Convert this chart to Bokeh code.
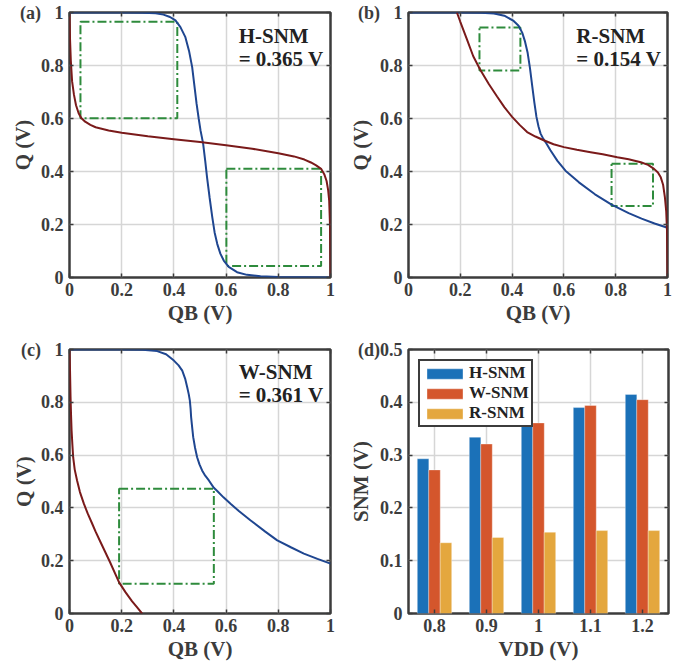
from bokeh.plotting import figure
from bokeh.layouts import row, column
from bokeh.models import (Range1d, FixedTicker, LinearAxis, Label, Legend,
                          LegendItem, ColumnDataSource)
from bokeh.transform import dodge
from bokeh.embed import file_html
from bokeh.resources import INLINE

# ---------------- data ----------------
# (a) hold butterfly
a_blue_qb = [0, 0.1, 0.2, 0.28, 0.33, 0.36, 0.385, 0.406, 0.425, 0.444, 0.458, 0.47, 0.479,
             0.487, 0.495, 0.502, 0.512, 0.52, 0.527, 0.537, 0.547, 0.556, 0.566, 0.578, 0.591,
             0.61, 0.642, 0.68, 0.732, 0.8, 0.9, 1.0]
a_blue_q = [1, 1, 1, 0.999, 0.997, 0.992, 0.983, 0.97, 0.945, 0.907, 0.855, 0.794, 0.72,
            0.655, 0.6, 0.555, 0.505, 0.44, 0.378, 0.3, 0.228, 0.17, 0.127, 0.09, 0.064,
            0.04, 0.02, 0.01, 0.005, 0.002, 0.001, 0.0]
a_red_qb = [0, 0.002, 0.005, 0.01, 0.017, 0.025, 0.035, 0.045, 0.06, 0.08, 0.1, 0.15, 0.2,
            0.3, 0.4, 0.5, 0.6, 0.7, 0.8, 0.86, 0.9, 0.925, 0.945, 0.964, 0.976, 0.985,
            0.991, 0.995, 0.998, 1.0]
a_red_q = [1, 0.9, 0.82, 0.74, 0.69, 0.65, 0.62, 0.602, 0.588, 0.576, 0.567, 0.555, 0.546,
           0.533, 0.522, 0.511, 0.499, 0.486, 0.469, 0.457, 0.445, 0.434, 0.423, 0.41, 0.39,
           0.364, 0.33, 0.289, 0.2, 0.0]
a_box_left = [0.042, 0.601]
a_box_right = [0.413, 0.964]
a_box_bottom = [0.601, 0.043]
a_box_top = [0.965, 0.41]

# (b) read butterfly
b_blue_qb = [0, 0.1, 0.2, 0.28, 0.33, 0.37, 0.406, 0.425, 0.439, 0.45, 0.46, 0.469, 0.478,
             0.486, 0.494, 0.502, 0.51, 0.52, 0.529, 0.548, 0.575, 0.606, 0.658, 0.72, 0.784,
             0.85, 0.9, 0.95, 1.0]
b_blue_q = [1, 1, 1, 0.999, 0.996, 0.988, 0.968, 0.95, 0.924, 0.89, 0.848, 0.79, 0.72,
            0.66, 0.606, 0.57, 0.543, 0.524, 0.511, 0.48, 0.44, 0.403, 0.359, 0.314, 0.275,
            0.243, 0.222, 0.204, 0.188]
b_red_qb = [0.187, 0.2, 0.226, 0.25, 0.277, 0.31, 0.342, 0.37, 0.4, 0.43, 0.458, 0.49, 0.522,
            0.56, 0.6, 0.65, 0.703, 0.75, 0.806, 0.85, 0.897, 0.925, 0.948, 0.963, 0.974,
            0.983, 0.99, 0.995, 0.998, 1.0]
b_red_q = [1.0, 0.965, 0.898, 0.835, 0.784, 0.73, 0.683, 0.643, 0.606, 0.575, 0.549, 0.532,
           0.518, 0.503, 0.492, 0.482, 0.473, 0.465, 0.454, 0.446, 0.435, 0.425, 0.41, 0.396,
           0.378, 0.35, 0.302, 0.25, 0.18, 0.0]
b_box_left = [0.274, 0.784]
b_box_right = [0.432, 0.944]
b_box_bottom = [0.781, 0.27]
b_box_top = [0.943, 0.429]

# (c) write butterfly
c_blue_qb = [0, 0.1, 0.2, 0.28, 0.336, 0.37, 0.4, 0.418, 0.432, 0.443, 0.451, 0.457, 0.461,
             0.464, 0.466, 0.47, 0.474, 0.481, 0.489, 0.498, 0.508, 0.52, 0.534, 0.553, 0.566,
             0.59, 0.617, 0.65, 0.693, 0.75, 0.796, 0.85, 0.898, 0.95, 1.0]
c_blue_q = [1, 1, 1, 0.999, 0.994, 0.982, 0.958, 0.94, 0.92, 0.89, 0.857, 0.83, 0.807,
            0.775, 0.744, 0.705, 0.668, 0.628, 0.592, 0.565, 0.542, 0.522, 0.504, 0.476, 0.464,
            0.44, 0.416, 0.387, 0.353, 0.31, 0.277, 0.25, 0.227, 0.207, 0.189]
c_red_qb = [0, 0.002, 0.004, 0.006, 0.008, 0.011, 0.014, 0.02, 0.029, 0.04, 0.055, 0.07,
            0.087, 0.1, 0.12, 0.155, 0.19, 0.215, 0.24, 0.26, 0.278]
c_red_q = [1, 0.92, 0.82, 0.75, 0.693, 0.64, 0.592, 0.545, 0.504, 0.46, 0.416, 0.378,
           0.34, 0.31, 0.268, 0.195, 0.118, 0.08, 0.046, 0.022, 0.0]
c_box_left = [0.19]
c_box_right = [0.553]
c_box_bottom = [0.113]
c_box_top = [0.473]

# (d) SNM vs VDD
vdd = [0.8, 0.9, 1.0, 1.1, 1.2]
h_snm = [0.293, 0.334, 0.365, 0.39, 0.415]
w_snm = [0.272, 0.321, 0.361, 0.394, 0.405]
r_snm = [0.134, 0.144, 0.154, 0.157, 0.157]
series_names = ["H-SNM", "W-SNM", "R-SNM"]

vtc_ticks = [0, 0.2, 0.4, 0.6, 0.8, 1.0]
vtc_tick_labels = ["0", "0.2", "0.4", "0.6", "0.8", "1"]
snm_ticks = [0, 0.1, 0.2, 0.3, 0.4, 0.5]
snm_tick_labels = ["0", "0.1", "0.2", "0.3", "0.4", "0.5"]
vdd_tick_labels = ["0.8", "0.9", "1", "1.1", "1.2"]
panel_tags = ["(a)", "(b)", "(c)", "(d)"]

# ---------------- style ----------------
FONT = "Liberation Serif"
DARK = "#3c3c3c"
GRID = "#d6d6d6"
BLUE = "#1f4690"
RED = "#7a1a1a"
GREEN = "#2e8b3c"
BAR_COLORS = ["#1b71b8", "#d4562c", "#e4a73e"]
NB = "\u00a0"


def style_axis(ax, size="18px"):
    ax.axis_line_color = None
    ax.major_tick_in = 4
    ax.major_tick_out = 0
    ax.major_tick_line_color = DARK
    ax.major_tick_line_width = 1.5
    ax.minor_tick_line_color = None
    ax.major_label_text_font = FONT
    ax.major_label_text_font_style = "bold"
    ax.major_label_text_font_size = size
    ax.major_label_text_color = DARK
    ax.axis_label_text_font = FONT
    ax.axis_label_text_font_style = "bold"
    ax.axis_label_text_font_size = "21px"
    ax.axis_label_text_color = DARK


def make_fig(W, H, left, right, top, bottom, xr, yr, xticks, xlabels, yticks, ylabels,
             xlabel, ylabel, ylabel_standoff):
    p = figure(width=W, height=H, x_range=Range1d(*xr), y_range=Range1d(*yr),
               output_backend="svg", toolbar_location=None,
               min_border_left=left, min_border_right=right,
               min_border_top=top, min_border_bottom=bottom)
    p.outline_line_color = DARK
    p.outline_line_width = 2.5
    p.outline_line_alpha = 1
    p.background_fill_color = "white"
    p.border_fill_color = "white"

    xt = FixedTicker(ticks=xticks)
    yt = FixedTicker(ticks=yticks)
    xa = p.xaxis[0]
    ya = p.yaxis[0]
    xa.ticker = xt
    ya.ticker = yt
    xa.major_label_overrides = dict(zip(xticks, xlabels))
    ya.major_label_overrides = dict(zip(yticks, ylabels))
    style_axis(xa)
    style_axis(ya)
    xa.major_label_standoff = 5
    ya.major_label_standoff = 6
    xa.axis_label = xlabel
    ya.axis_label = ylabel
    xa.axis_label_standoff = 2
    ya.axis_label_standoff = ylabel_standoff

    top_ax = LinearAxis(ticker=FixedTicker(ticks=xticks),
                        major_label_overrides={t: "" for t in xticks})
    right_ax = LinearAxis(ticker=FixedTicker(ticks=yticks),
                          major_label_overrides={t: "" for t in yticks})
    for ax in (top_ax, right_ax):
        style_axis(ax, size="1px")
        ax.major_label_standoff = 0
    p.add_layout(top_ax, "above")
    p.add_layout(right_ax, "right")

    p.xgrid.ticker = xt
    p.ygrid.ticker = yt
    for g in (p.xgrid[0], p.ygrid[0]):
        g.grid_line_color = GRID
        g.grid_line_width = 1.5
    return p


def add_text(p, x, y, text, size="21px", color="#222222"):
    p.add_layout(Label(x=x, y=y, text=text, text_font=FONT, text_font_style="bold",
                       text_font_size=size, text_color=color, text_align="left",
                       text_baseline="middle"))


def tagged(labels, tag, sep):
    # the panel tag is written in front of the top tick label, as in the figure
    return labels[:-1] + [tag + sep + labels[-1]]


def vtc_panel(W, H, left, right, top, bottom, blue_x, blue_y, red_x, red_y,
              bl, br, bb, bt, tag, name, val, xlabel):
    p = make_fig(W, H, left, right, top, bottom, (0, 1), (0, 1),
                 vtc_ticks, vtc_tick_labels, vtc_ticks,
                 tagged(vtc_tick_labels, tag, NB * 3), xlabel, "Q (V)", -18)
    p.quad(left=bl, right=br, bottom=bb, top=bt, fill_alpha=0, line_color=GREEN,
           line_width=2, line_dash="9 3 2 3")
    p.line(blue_x, blue_y, line_color=BLUE, line_width=2)
    p.line(red_x, red_y, line_color=RED, line_width=2)
    add_text(p, 0.648, 0.913, name)
    add_text(p, 0.648, 0.826, val)
    return p


pa = vtc_panel(345, 339, 69, 15, 12, 62, a_blue_qb, a_blue_q, a_red_qb, a_red_q,
               a_box_left, a_box_right, a_box_bottom, a_box_top,
               panel_tags[0], "H-SNM", "= 0.365 V", "QB (V)")
pb = vtc_panel(344, 339, 63, 22, 12, 62, b_blue_qb, b_blue_q, b_red_qb, b_red_q,
               b_box_left, b_box_right, b_box_bottom, b_box_top,
               panel_tags[1], "R-SNM", "= 0.154 V", "QB (V)")
pc = vtc_panel(345, 327, 69, 15, 10, 53, c_blue_qb, c_blue_q, c_red_qb, c_red_q,
               c_box_left, c_box_right, c_box_bottom, c_box_top,
               panel_tags[2], "W-SNM", "= 0.361 V", "QB (V)")

# (d) bars
pd_ = make_fig(344, 327, 63, 21, 10, 53, (0.75, 1.25), (0, 0.5),
               vdd, vdd_tick_labels, snm_ticks, tagged(snm_tick_labels, panel_tags[3], ""),
               "VDD (V)", "SNM (V)", -18)
src = ColumnDataSource(dict(vdd=vdd, h=h_snm, w=w_snm, r=r_snm))
rends = []
for col, off, colr in zip(["h", "w", "r"], [-0.022, 0.0, 0.022], BAR_COLORS):
    rends.append(pd_.vbar(x=dodge("vdd", off), top=col, width=0.0222, source=src,
                          fill_color=colr, line_color="white", line_alpha=0.35,
                          line_width=1))
legend = Legend(items=[LegendItem(label=n, renderers=[r]) for n, r in zip(series_names, rends)],
                location="top_left", margin=10, padding=2, spacing=0,
                glyph_width=45, glyph_height=13, label_height=16, label_standoff=2,
                label_text_font=FONT, label_text_font_style="bold",
                label_text_font_size="17px", label_text_color="#222222",
                border_line_color=DARK, border_line_width=2, border_line_alpha=1,
                background_fill_alpha=1)
pd_.add_layout(legend)

layout = column(row(pa, pb), row(pc, pd_))

open("out.html", "w").write(file_html(layout, INLINE))
